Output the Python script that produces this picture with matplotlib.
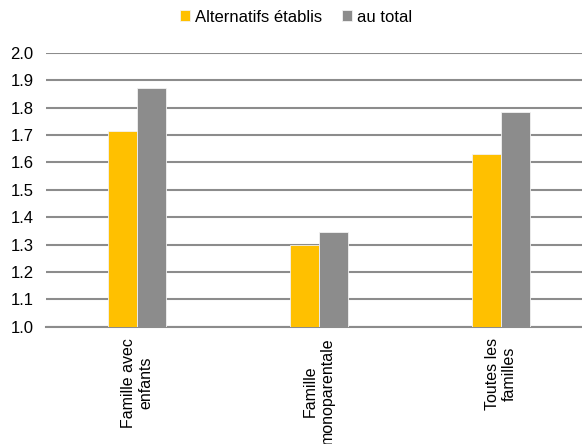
import matplotlib.pyplot as plt
import numpy as np

# Famille: alternatifs établis vs total
categories = ["Famille avec\nenfants", "Famille\nmonoparentale", "Toutes les\nfamilles"]
alternatifs = [1.715, 1.30, 1.632]
total = [1.872, 1.345, 1.782]
series_names = ["Alternatifs établis", "au total"]

plt.rcParams['font.family'] = ['Liberation Sans', 'DejaVu Sans']

fig = plt.figure(figsize=(5.82, 4.44), dpi=100)
# axes runs a bit past the right edge of the figure, as in the original
ax = fig.add_axes([46 / 582, 117.3 / 444, 546 / 582, 274 / 444])

x = np.arange(len(categories))
w = 0.16
ax.bar(x - w / 2, [v - 1 for v in alternatifs], w, bottom=1, color="#FFC000",
       edgecolor="#f2f2f2", linewidth=0.6, label=series_names[0], zorder=3)
ax.bar(x + w / 2, [v - 1 for v in total], w, bottom=1, color="#8C8C8C",
       edgecolor="#f2f2f2", linewidth=0.6, label=series_names[1], zorder=3)

ax.set_ylim(1.0, 2.0)
ax.set_xlim(-0.5, 2.5)
ax.set_yticks(np.arange(1.0, 2.01, 0.1))
ax.set_yticklabels([f"{v:.1f}" for v in np.arange(1.0, 2.01, 0.1)], fontsize=12)
ax.set_xticks(x)
ax.set_xticklabels(categories, rotation=90, fontsize=11.5, multialignment="center")
ax.tick_params(axis="both", length=0)
ax.tick_params(axis="y", pad=9)
ax.tick_params(axis="x", pad=8)

ax.grid(axis="y", color="#8c8c8c", linewidth=1.5, zorder=0)
for s in ["top", "right", "left"]:
    ax.spines[s].set_visible(False)
ax.spines["bottom"].set_color("#8c8c8c")
ax.spines["bottom"].set_linewidth(1.5)

fig.legend(loc="center", bbox_to_anchor=(296 / 582, 1 - 17 / 444), ncol=2, frameon=False,
           fontsize=12, handlelength=0.6, handleheight=0.6, handletextpad=0.3,
           columnspacing=1.2)

fig.savefig("out.png", dpi=100)
